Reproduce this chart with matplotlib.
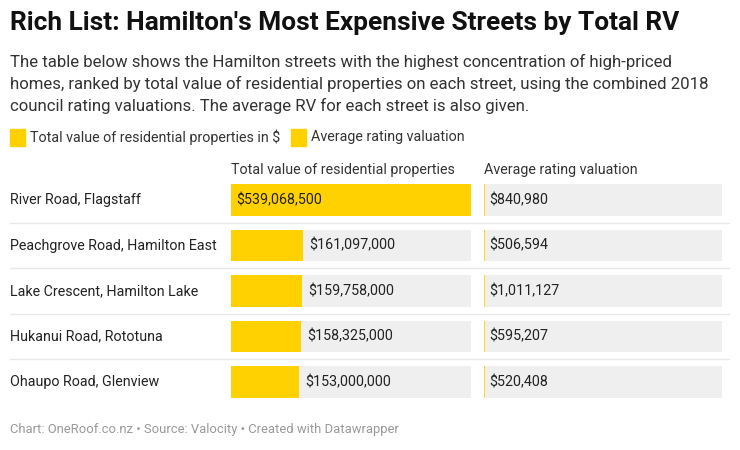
import matplotlib.pyplot as plt

plt.rcParams['font.family'] = ['Roboto', 'DejaVu Sans']

streets = ['River Road, Flagstaff', 'Peachgrove Road, Hamilton East',
           'Lake Crescent, Hamilton Lake', 'Hukanui Road, Rototuna',
           'Ohaupo Road, Glenview']
total_value = [539068500, 161097000, 159758000, 158325000, 153000000]
avg_rv = [840980, 506594, 1011127, 595207, 520408]

YELLOW = '#FFD100'
BG = '#EFEFEF'
TEXT = '#222222'

W, H = 740, 450
fig = plt.figure(figsize=(W / 100, H / 100), dpi=100)


def px_axes(x0, y0, x1, y1):
    # axes from pixel box (top-left origin)
    return fig.add_axes([x0 / W, 1 - y1 / H, (x1 - x0) / W, (y1 - y0) / H])


fig.text(10 / W, 1 - 23 / H, "Rich List: Hamilton's Most Expensive Streets by Total RV",
         fontsize=18.9, fontweight='bold', color='#111111', va='center')
fig.text(10 / W, 1 - 54 / H,
         "The table below shows the Hamilton streets with the highest concentration of high-priced\n"
         "homes, ranked by total value of residential properties on each street, using the combined 2018\n"
         "council rating valuations. The average RV for each street is also given.",
         fontsize=12.1, color='#333333', va='top', linespacing=1.46)

# legend
fig.patches.append(plt.Rectangle((10 / W, 1 - 146 / H), 15 / W, 17 / H,
                                 transform=fig.transFigure, color=YELLOW))
fig.text(30 / W, 1 - 137 / H, 'Total value of residential properties in $',
         fontsize=10.3, color='#333333', va='center')
fig.patches.append(plt.Rectangle((291 / W, 1 - 146 / H), 15 / W, 17 / H,
                                 transform=fig.transFigure, color=YELLOW))
fig.text(311 / W, 1 - 137 / H, 'Average rating valuation',
         fontsize=10.3, color='#333333', va='center')

# column headers
fig.text(231 / W, 1 - 170 / H, 'Total value of residential properties',
         fontsize=10.3, color='#333333', va='center')
fig.text(484 / W, 1 - 170 / H, 'Average rating valuation',
         fontsize=10.3, color='#333333', va='center')

rows = list(range(len(streets)))
top, bottom = 177.25, 404.75

# background axes for row labels and separators
ax0 = px_axes(10, top, 730, bottom)
ax0.set_xlim(0, 1)
ax0.set_ylim(len(streets) - 0.5, -0.5)
ax0.axis('off')
for i, s in enumerate(streets):
    ax0.text(0, i, s, fontsize=10.3, color=TEXT, va='center', ha='left')
for i in rows[:-1]:
    ax0.axhline(i + 0.5, color='#E8E8E8', lw=1)

bar_h = 0.70
vmax = max(total_value)

ax1 = px_axes(231, top, 471, bottom)
ax1.set_xlim(0, vmax)
ax1.set_ylim(len(streets) - 0.5, -0.5)
ax1.axis('off')
ax1.barh(rows, [vmax] * len(rows), height=bar_h, color=BG, lw=0)
ax1.barh(rows, total_value, height=bar_h, color=YELLOW, lw=0)
for i, v in enumerate(total_value):
    lab = '${:,}'.format(v)
    if v > vmax * 0.5:
        ax1.annotate(lab, (0, i), xytext=(4, 0), textcoords='offset points',
                     va='center', ha='left', fontsize=10.3, color=TEXT)
    else:
        ax1.annotate(lab, (v, i), xytext=(4.5, 0), textcoords='offset points',
                     va='center', ha='left', fontsize=10.3, color=TEXT)

ax2 = px_axes(484, top, 722, bottom)
ax2.set_xlim(0, vmax)
ax2.set_ylim(len(streets) - 0.5, -0.5)
ax2.axis('off')
ax2.barh(rows, [vmax] * len(rows), height=bar_h, color=BG, lw=0)
ax2.barh(rows, avg_rv, height=bar_h, color=YELLOW, edgecolor=YELLOW, lw=1.2)
for i, v in enumerate(avg_rv):
    ax2.annotate('${:,}'.format(v), (0, i), xytext=(3.5, 0), textcoords='offset points',
                 va='center', ha='left', fontsize=10.3, color=TEXT)

fig.text(10 / W, 1 - 430 / H,
         'Chart: OneRoof.co.nz \u2022 Source: Valocity \u2022 Created with Datawrapper',
         fontsize=9.4, color='#999999', va='center')

fig.savefig('out.png', dpi=100, facecolor='white')
